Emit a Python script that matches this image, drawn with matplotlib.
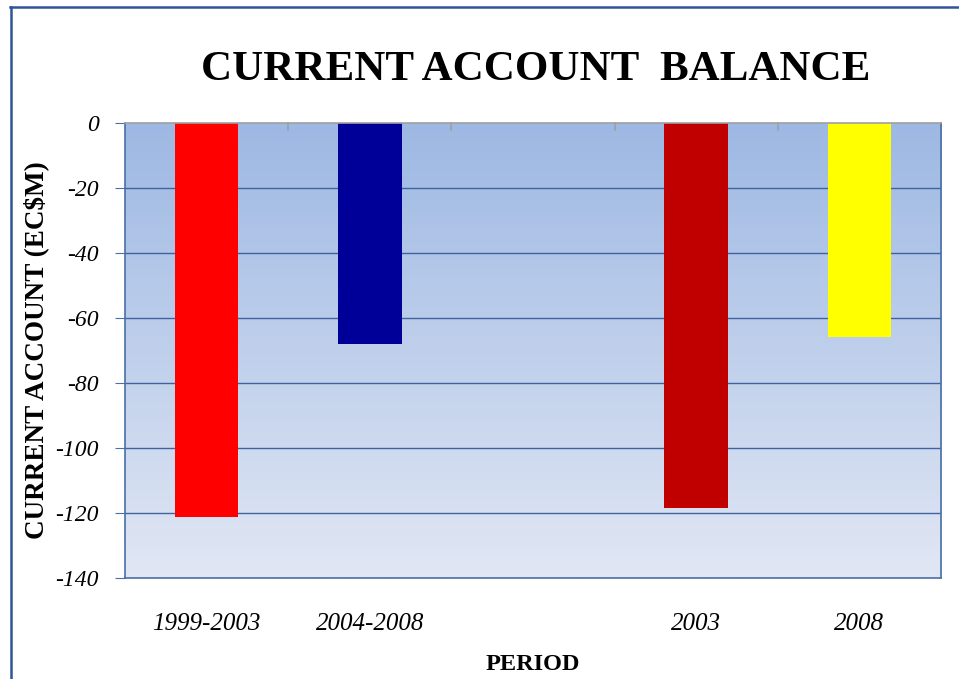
import numpy as np
import matplotlib.pyplot as plt

# data
periods = ["1999-2003", "2004-2008", "", "2003", "2008"]
balance = [-121.2, -68.0, np.nan, -118.5, -65.8]
bar_colors = ["#FF0000", "#000099", "#FFFFFF", "#C00000", "#FFFF00"]
yticks = [0, -20, -40, -60, -80, -100, -120, -140]

plt.rcParams["font.family"] = "Liberation Serif"

fig = plt.figure(figsize=(9.59, 6.79), dpi=100)
ax = fig.add_axes([0.1303, 0.1487, 0.8509, 0.6702])

x = np.arange(len(periods))
ax.set_xlim(-0.5, len(periods) - 0.5)
ax.set_ylim(-140, 0)

# gradient background
grad = np.linspace(0, 1, 256).reshape(-1, 1)
top = np.array([157, 184, 227]) / 255
bot = np.array([225, 231, 244]) / 255
img = top + (bot - top) * grad[:, :, None] * np.ones((1, 1, 3))
ax.imshow(img, extent=[-0.5, len(periods) - 0.5, -140, 0], aspect="auto",
          zorder=0, origin="upper")

for yv in yticks[1:-1]:
    ax.axhline(yv, color="#3F63A0", linewidth=1.0, zorder=1)

ax.bar(x, balance, width=0.39, color=bar_colors, zorder=2)

# spines
for s in ["top", "bottom", "left", "right"]:
    ax.spines[s].set_color("#4A6FA5")
    ax.spines[s].set_linewidth(1.2)
ax.spines["top"].set_color("#A0A0A0")
ax.spines["top"].set_zorder(3)

# category tick marks at boundaries on the zero line
for b in np.arange(0.5, len(periods) - 0.5, 1.0):
    ax.plot([b, b], [0, -2.2], color="#A0A0A0", linewidth=1.2, zorder=3,
            clip_on=False)

ax.set_yticks(yticks)
ax.set_yticklabels([str(v) for v in yticks], fontsize=17, style="italic")
ax.tick_params(axis="y", length=7, color="#4A6FA5", pad=12)
ax.set_xticks(x)
ax.set_xticklabels(periods, fontsize=18, style="italic")
ax.tick_params(axis="x", length=0, pad=25)

ax.set_xlabel("PERIOD", fontsize=17.5, fontweight="bold", labelpad=14)
ax.set_ylabel("CURRENT ACCOUNT (EC\\$M)", fontsize=19.5, fontweight="bold",
              labelpad=4)

fig.text(0.5584, 0.897, "CURRENT ACCOUNT  BALANCE", fontsize=31,
         fontweight="bold", ha="center", va="center")

# outer frame (left and top)
fig.add_artist(plt.Line2D([0.0115, 0.0115], [0, 0.99], color="#2F5597",
                          linewidth=1.8, transform=fig.transFigure))
fig.add_artist(plt.Line2D([0.0105, 1.0], [0.99, 0.99], color="#2F5597",
                          linewidth=1.8, transform=fig.transFigure))

fig.savefig("out.png", dpi=100)
